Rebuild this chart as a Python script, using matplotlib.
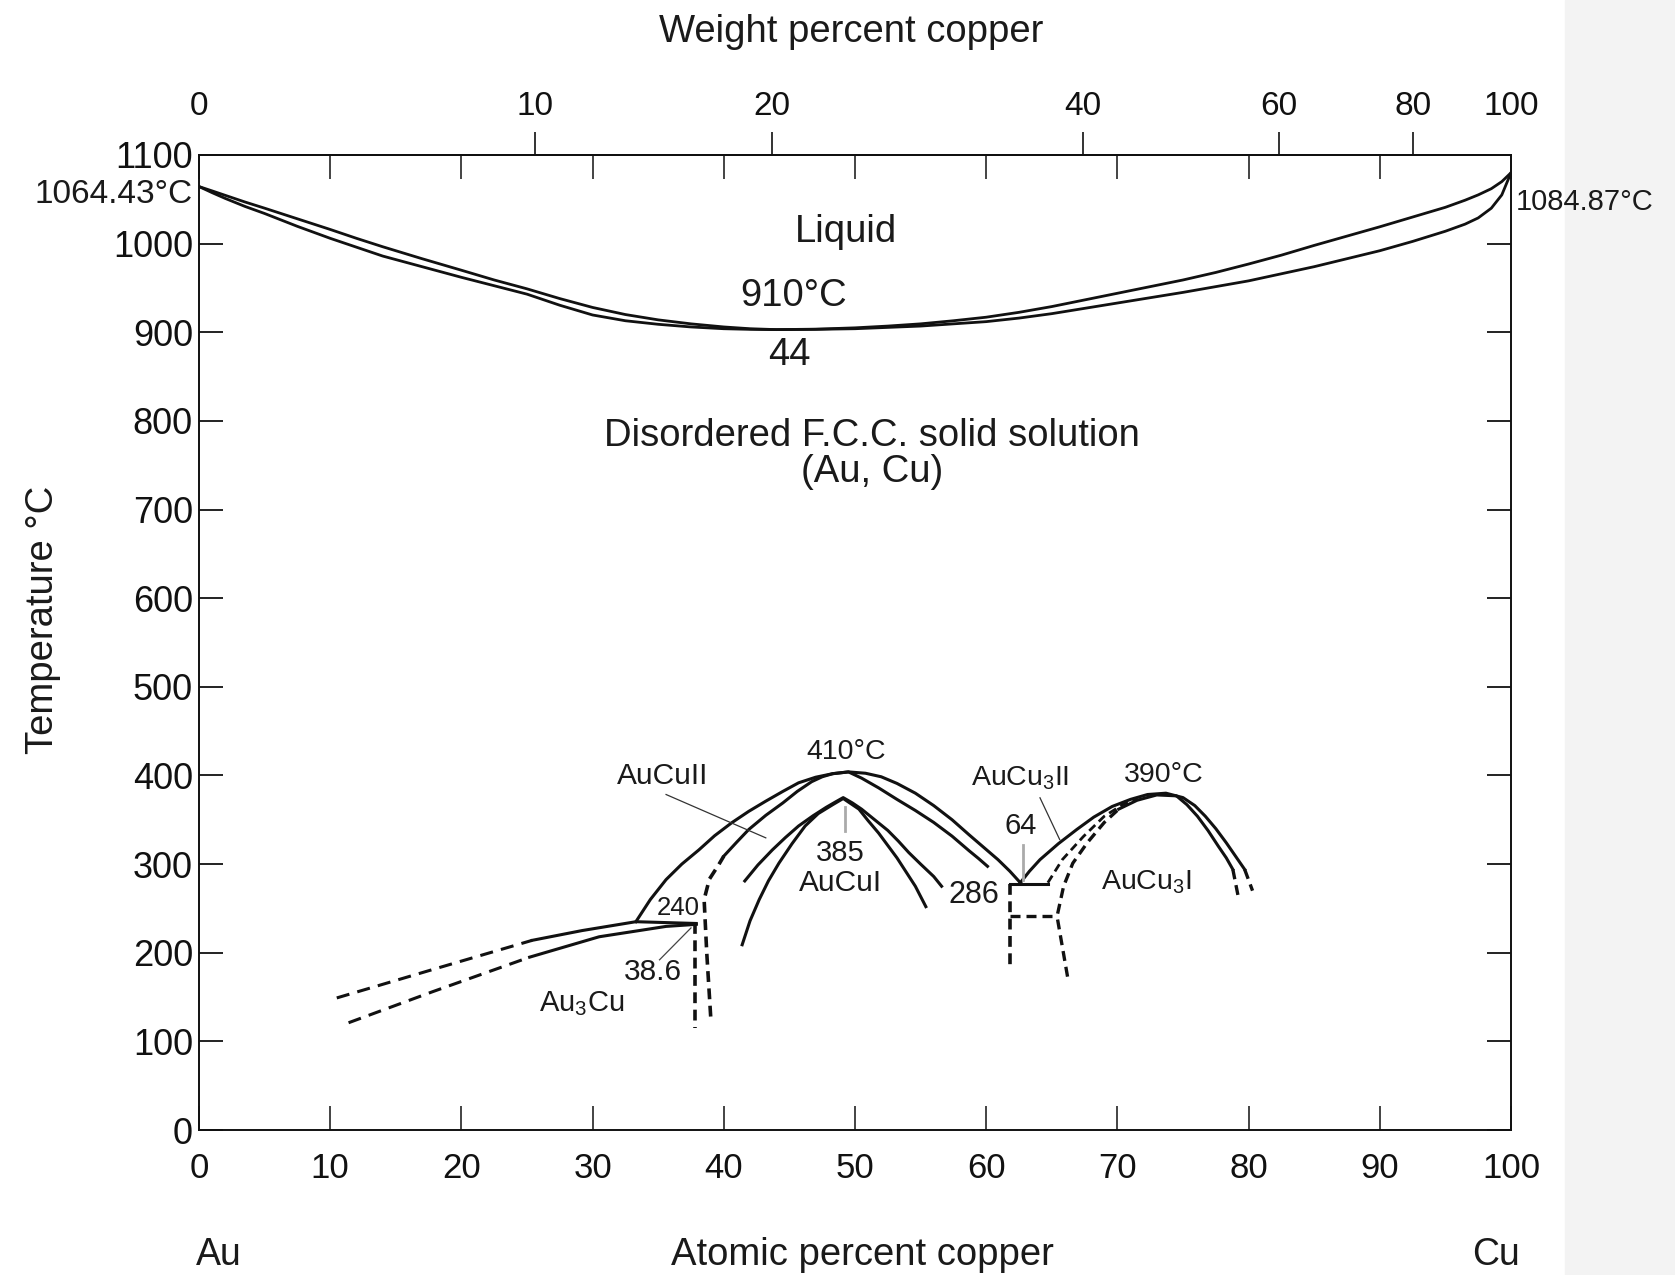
import numpy as np
import matplotlib
matplotlib.use("Agg")
import matplotlib.pyplot as plt
from matplotlib.patches import Rectangle

plt.rcParams['font.family'] = ['Liberation Sans', 'DejaVu Sans']
plt.rcParams['mathtext.fontset'] = 'custom'
plt.rcParams['mathtext.rm'] = 'Liberation Sans'
plt.rcParams['mathtext.it'] = 'Liberation Sans'
plt.rcParams['mathtext.default'] = 'regular'

# ---------------- data (atomic % Cu, temperature degC) ----------------
liq_at = [0, 1, 2, 3.5, 5, 7.5, 10, 12, 14, 17, 20, 22.5, 25, 27.5, 30, 32.5, 35, 37.5, 40, 42, 44,
          47, 50, 52.5, 55, 57.5, 60, 62.5, 65, 67.5, 70, 72.5, 75, 77.5, 80, 82.5, 85, 87.5, 90,
          92.5, 95, 96.5, 97.5, 98.5, 99.3, 100]
liq_T = [1064.4, 1059.5, 1054.5, 1047, 1040, 1028, 1016, 1006, 996.5, 983, 970, 959, 949, 938, 928,
         920, 914, 909.5, 906, 904, 903, 903.5, 905, 907, 909.5, 913, 917, 922.5, 929, 936.5, 944,
         951.5, 959, 967.5, 977, 987, 998, 1008.5, 1019, 1030, 1041, 1049, 1055, 1062, 1070, 1080]
sol_T = [1064.4, 1057.5, 1051, 1042, 1034, 1019.5, 1006, 996, 986, 974, 962, 952.5, 943, 930.5,
         919.5, 913, 909, 906, 904, 903.3, 903, 903.3, 904, 905.5, 907, 909.5, 912, 916, 921, 927,
         933, 939, 945, 951.5, 958, 966, 974, 983, 992, 1002.5, 1014, 1022, 1029, 1040, 1055, 1080]

au3cu_up_dash_at = [10.5, 17.8, 25.4]
au3cu_up_dash_T = [149, 181, 214]
au3cu_up_at = [25.4, 29.2, 33.3, 35.6, 37.9]
au3cu_up_T = [214, 225, 235, 234, 233]
au3cu_lo_dash_at = [11.4, 17.8, 25.2]
au3cu_lo_dash_T = [121, 156, 195]
au3cu_lo_at = [25.2, 30.5, 35.6, 37.9]
au3cu_lo_T = [195, 218, 229.7, 232]
au3cu_v1_at = [37.8, 37.8]
au3cu_v1_T = [233, 115]

outer_at = [33.3, 34.4, 35.6, 36.8, 38.1, 39.3, 40.6, 41.9, 43.2, 44.5, 45.7, 47.0, 48.3, 49.5,
            50.8, 52.0, 53.2, 54.6, 56.0, 57.4, 58.7, 59.8, 60.9, 61.8, 62.6]
outer_T = [235, 260, 282.5, 300, 316, 332, 346.6, 359.5, 371, 382, 391.7, 398, 402, 404,
           402.5, 398.5, 391, 380, 366, 350, 333, 319, 305, 292, 279]

second_dash_at = [39.0, 38.7, 38.5, 38.9, 39.6, 40.0]
second_dash_T = [128, 200, 260, 283, 299, 309]
second_at = [40.0, 41.0, 41.9, 43.2, 44.5, 45.6, 46.7, 47.5, 48.3, 49.5, 50.5, 51.8, 53.2, 54.6,
             56.0, 57.4, 58.7, 59.4, 60.1]
second_T = [309, 325, 339, 355, 369, 382, 393, 398.5, 402, 404, 397, 386, 373, 360.5,
            347, 331.5, 315, 306.5, 297.5]

third_at = [41.6, 42.6, 43.7, 44.7, 45.7, 46.8, 47.8, 48.5, 49.1, 49.8, 50.5, 51.5, 52.5, 53.3,
            54.1, 55.0, 56.0, 56.6]
third_T = [281, 299, 316, 330, 343, 354.5, 364, 370, 375, 369, 362, 350, 338, 326,
           313, 300, 286, 275]
fourth_at = [41.4, 42.0, 42.7, 43.4, 44.2, 45.2, 46.2, 47.2, 48.3, 49.1, 49.7, 50.3, 51.0, 51.8,
             52.5, 53.2, 53.9, 54.6, 55.4]
fourth_T = [209, 236, 260, 281, 301, 323, 343, 357, 367, 374, 368, 362, 349, 335,
            321, 307, 291, 275, 252]

au3_outer_at = [62.6, 63.3, 64.1, 65.5, 66.9, 68.2, 69.6, 71.0, 72.3, 73.7, 75.0, 75.9, 76.7,
                77.5, 78.3, 79.0, 79.7]
au3_outer_T = [279, 292, 305, 323, 339, 353, 365, 373, 378.5, 380, 375, 366, 354,
               340, 324, 309, 294]
au3_outer_dash_at = [79.7, 80.3]
au3_outer_dash_T = [294, 270]

au3_B_at = [64.7, 65.8, 67.4, 69.0, 70.4, 71.5]
au3_B_T = [279, 305, 331, 354, 367, 374]
au3_C_dash_at = [66.2, 65.8, 65.4, 65.9, 66.6, 67.7, 69.0, 70.1]
au3_C_dash_T = [173, 207, 241, 275, 301, 324, 347, 362]
au3_C_at = [70.1, 71.5, 73.0, 74.5, 75.3, 76.1, 76.9, 77.7, 78.3, 78.8]
au3_C_T = [362, 372, 378, 377, 367, 354, 338, 320, 307, 294]
au3_C_end_at = [78.8, 79.2]
au3_C_end_T = [294, 264]

h286_at = [61.8, 64.7]
h286_T = [278, 278]
v286_at = [61.8, 61.8]
v286_T = [277, 181]
hdash_at = [61.8, 65.4]
hdash_T = [241, 241]

x_ticks = list(range(0, 101, 10))
y_ticks = list(range(0, 1101, 100))
wt_ticks = [0, 10, 20, 40, 60, 80, 100]

W, H = 1675, 1275
fig = plt.figure(figsize=(W / 100, H / 100), dpi=100)
fig.patches.append(Rectangle((1565 / W, 0), (W - 1565) / W, 1, transform=fig.transFigure,
                             color='#f3f3f3', zorder=-10))

L, R, T0, B0 = 199, 1511, 155, 1130
ax = fig.add_axes([L / W, 1 - B0 / H, (R - L) / W, (B0 - T0) / H])
ax.set_xlim(0, 100)
ax.set_ylim(0, 1100)
for s in ax.spines.values():
    s.set_linewidth(1.4)
    s.set_color('#111111')

px = 0.72  # points per pixel
ax.set_xticks(x_ticks)
ax.set_yticks(y_ticks)
ax.tick_params(axis='x', direction='in', length=24 * px, width=1.1, top=True, bottom=True,
               labelsize=25, pad=22 * px, colors='#111111')
ax.tick_params(axis='y', direction='in', length=24 * px, width=1.3, left=True, right=True,
               labelsize=26, pad=6 * px, colors='#111111')


def at2wt(a):
    a = np.asarray(a, float)
    return 100 * a * 63.546 / (a * 63.546 + (100 - a) * 196.97)


def wt2at(w):
    w = np.asarray(w, float)
    return 100 * (w / 63.546) / (w / 63.546 + (100 - w) / 196.97)


sec = ax.secondary_xaxis('top', functions=(at2wt, wt2at))
sec.set_xticks(wt_ticks)
sec.tick_params(direction='out', length=23 * px, width=1.2, labelsize=24, pad=10 * px, colors='#111111')
sec.spines['top'].set_linewidth(1.4)
ticks = sec.xaxis.get_major_ticks()
for i in (0, len(ticks) - 1):
    ticks[i].tick1line.set_visible(False)
    ticks[i].tick2line.set_visible(False)

k = '#111111'
LW_L = 2.0
LW = 2.2
dash = (0, (4.3, 2.7))
dash_v = (0, (3.0, 1.8))

# liquidus / solidus
ax.plot(liq_at, liq_T, color=k, lw=LW_L)
ax.plot(liq_at, sol_T, color=k, lw=LW_L)

# Au3Cu
ax.plot(au3cu_up_dash_at, au3cu_up_dash_T, color=k, lw=LW, ls=dash)
ax.plot(au3cu_up_at, au3cu_up_T, color=k, lw=LW)
ax.plot(au3cu_lo_dash_at, au3cu_lo_dash_T, color=k, lw=LW, ls=dash)
ax.plot(au3cu_lo_at, au3cu_lo_T, color=k, lw=LW)
ax.plot(au3cu_v1_at, au3cu_v1_T, color=k, lw=2.6, ls=dash_v)

# AuCu domes
ax.plot(outer_at, outer_T, color=k, lw=LW)
ax.plot(second_dash_at, second_dash_T, color=k, lw=2.6, ls=dash_v)
ax.plot(second_at, second_T, color=k, lw=LW)
ax.plot(third_at, third_T, color=k, lw=LW)
ax.plot(fourth_at, fourth_T, color=k, lw=LW)

# AuCu3
ax.plot(au3_outer_at, au3_outer_T, color=k, lw=LW)
ax.plot(au3_outer_dash_at, au3_outer_dash_T, color=k, lw=2.4, ls=dash_v)
ax.plot(au3_B_at, au3_B_T, color=k, lw=2.0, ls=dash_v)
ax.plot(au3_C_dash_at, au3_C_dash_T, color=k, lw=2.4, ls=dash_v)
ax.plot(au3_C_at, au3_C_T, color=k, lw=LW)
ax.plot(au3_C_end_at, au3_C_end_T, color=k, lw=2.4, ls=dash_v)
ax.plot(h286_at, h286_T, color=k, lw=LW)
ax.plot(v286_at, v286_T, color=k, lw=2.6, ls=dash_v)
ax.plot(hdash_at, hdash_T, color=k, lw=2.4, ls=dash_v)

# leader lines
ax.plot([35.6, 43.2], [378.5, 329.6], color='#333333', lw=0.9)
ax.plot([35.1, 37.5], [192, 228], color='#444444', lw=0.9)
ax.plot([64.1, 65.6], [374.8, 327.7], color='#333333', lw=0.9)
ax.plot([49.2, 49.2], [364, 337], color='#aaaaaa', lw=2.0)
ax.plot([62.8, 62.8], [322, 282], color='#aaaaaa', lw=2.0)

tc = '#1a1a1a'
def t(x, y, s, size, **kw):
    ax.text(x, y, s, fontsize=size, color=tc, ha=kw.pop('ha', 'center'), va=kw.pop('va', 'center'),
            clip_on=False, **kw)

t(49.3, 1013, 'Liquid', 27.5)
t(45.3, 941, '910°C', 27.5)
t(45.0, 874, '44', 27.5)
t(51.3, 783, 'Disordered F.C.C. solid solution', 27.5)
t(51.3, 742, '(Au, Cu)', 27.5)
t(49.3, 427, '410°C', 20.5)
t(73.5, 401, '390°C', 20.5)
t(35.3, 399, 'AuCuII', 21.5)
t(62.6, 397, r'AuCu$_3$II', 20.5)
t(72.2, 279, r'AuCu$_3$I', 20.5)
t(48.9, 313, '385', 21)
t(48.9, 279, 'AuCuI', 21.5)
t(62.6, 343, '64', 21)
t(59.1, 265, '286', 22)
t(36.5, 251, '240', 18.5)
t(34.6, 178, '38.6', 21.5)
t(29.2, 143, r'Au$_3$Cu', 21)
t(-0.45, 1055, '1064.43°C', 24, ha='right')
t(100.35, 1047, '1084.87°C', 21, ha='left')

fig.text(851 / W, 1 - 32 / H, 'Weight percent copper', fontsize=27.5, color=tc, ha='center', va='center')
fig.text(43 / W, 1 - 620 / H, 'Temperature °C', fontsize=27.5, color=tc, ha='center', va='center', rotation=90)
fig.text(219 / W, 1 - 1255 / H, 'Au', fontsize=27, color=tc, ha='center', va='center')
fig.text(862 / W, 1 - 1255 / H, 'Atomic percent copper', fontsize=27.5, color=tc, ha='center', va='center')
fig.text(1496 / W, 1 - 1255 / H, 'Cu', fontsize=27, color=tc, ha='center', va='center')

fig.savefig('out.png', dpi=100, facecolor='white')
